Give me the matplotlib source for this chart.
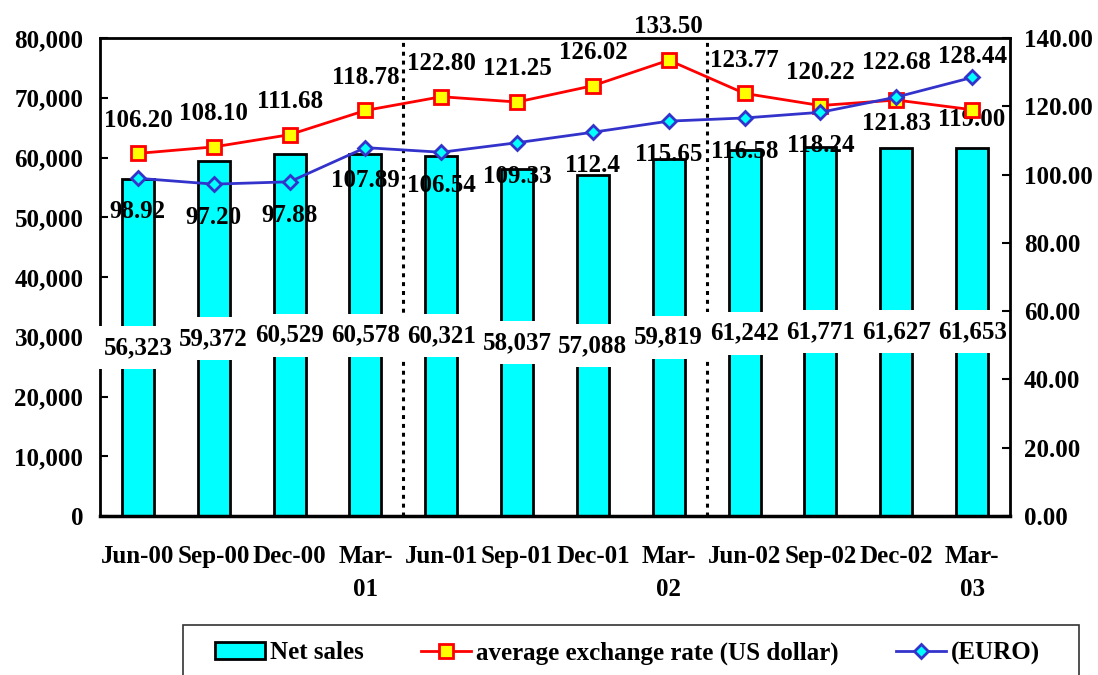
import matplotlib
matplotlib.use("Agg")
import matplotlib.pyplot as plt
from matplotlib.patches import Rectangle
from matplotlib.ticker import FuncFormatter

# -------------------------------
# DATA
# -------------------------------
quarters = ["Jun-00", "Sep-00", "Dec-00", "Mar-\n01", "Jun-01", "Sep-01",
            "Dec-01", "Mar-\n02", "Jun-02", "Sep-02", "Dec-02", "Mar-\n03"]
net_sales = [56323, 59372, 60529, 60578, 60321, 58037,
             57088, 59819, 61242, 61771, 61627, 61653]
usd_rate = [106.20, 108.10, 111.68, 118.78, 122.80, 121.25,
            126.02, 133.50, 123.77, 120.22, 121.83, 119.00]
euro_rate = [98.92, 97.20, 97.88, 107.89, 106.54, 109.33,
             112.4, 115.65, 116.58, 118.24, 122.68, 128.44]

# label offsets in points (positive = above the marker)
usd_offsets = [24, 24, 24, 24, 24, 24, 24, 24, 24, 24, -17, -7]
euro_offsets = [-24, -24, -24, -24, -24, -24, -24, -24, -24, -24, 25, 15]

# -------------------------------
# STYLE
# -------------------------------
plt.rcParams["font.family"] = ["Liberation Serif", "DejaVu Serif"]
plt.rcParams["font.weight"] = "bold"
plt.rcParams["font.size"] = 18

fig = plt.figure(figsize=(10.98, 6.75), dpi=100)
ax = fig.add_axes([100 / 1098, 1 - 516 / 675, 910 / 1098, 478 / 675])
ax2 = ax.twinx()

x = list(range(len(quarters)))

# -------------------------------
# BARS (left axis)
# -------------------------------
ax.bar(x, net_sales, width=0.42, color="#00FFFF", edgecolor="black",
       linewidth=2, label="Net sales", zorder=2)
# white boxes first, then the numbers on top so boxes don't hide neighbours
for xi, v in zip(x, net_sales):
    ax.text(xi, v / 2, f"{v:,}", ha="center", va="center", fontweight="bold",
            color="white", zorder=9, clip_on=False,
            bbox=dict(boxstyle="square,pad=0.4", fc="white", ec="none"))
for xi, v in zip(x, net_sales):
    ax.text(xi, v / 2, f"{v:,}", ha="center", va="center", fontweight="bold",
            zorder=10, clip_on=False)

ax.set_xlim(-0.5, len(quarters) - 0.5)
ax.set_ylim(0, 80000)
ax.set_yticks(range(0, 80001, 10000))
ax.yaxis.set_major_formatter(FuncFormatter(lambda v, p: f"{int(v):,}"))
ax.set_xticks(x)
ax.set_xticklabels(quarters, linespacing=1.55)
ax.tick_params(axis="x", length=0, pad=21)
ax.tick_params(axis="y", direction="in", length=6, width=1.5, pad=12)

for xv in (3.5, 7.5):
    ax.axvline(xv, color="black", linewidth=2.2, linestyle=(0, (1.3, 1.6)), zorder=3)

# -------------------------------
# LINES (right axis)
# -------------------------------
ax2.plot(x, usd_rate, color="red", linewidth=2, marker="s", markersize=10,
         markerfacecolor="yellow", markeredgecolor="red", markeredgewidth=2,
         label="average exchange rate (US dollar)", zorder=5)
ax2.plot(x, euro_rate, color="#3333CC", linewidth=2, marker="D", markersize=7.5,
         markerfacecolor="#00FFFF", markeredgecolor="#3333CC", markeredgewidth=2,
         label="(EURO)", zorder=5)

for xi, v, off in zip(x, usd_rate, usd_offsets):
    ax2.annotate(f"{v:.2f}", (xi, v), xytext=(0, off), textcoords="offset points",
                 ha="center", va="center", fontweight="bold", annotation_clip=False)
for i, (xi, v, off) in enumerate(zip(x, euro_rate, euro_offsets)):
    txt = f"{v:.1f}" if i == 6 else f"{v:.2f}"
    ax2.annotate(txt, (xi, v), xytext=(0, off), textcoords="offset points",
                 ha="center", va="center", fontweight="bold", annotation_clip=False)

ax2.set_ylim(0, 140)
ax2.set_yticks(range(0, 141, 20))
ax2.yaxis.set_major_formatter(FuncFormatter(lambda v, p: f"{v:.2f}"))
ax2.tick_params(axis="y", direction="in", length=6, width=1.5, pad=10)

# spines
for s in ("top", "bottom", "left", "right"):
    ax.spines[s].set_linewidth(2)
ax.spines["bottom"].set_linewidth(2.5)
ax.spines["right"].set_visible(False)
ax2.spines["left"].set_visible(False)
ax2.spines["top"].set_visible(False)
ax2.spines["bottom"].set_visible(False)
ax2.spines["right"].set_linewidth(2)

# -------------------------------
# LEGEND
# -------------------------------
fig.patches.append(Rectangle((183 / 1098, -0.05), (1079 - 183) / 1098, 0.05 + 50 / 675,
                             transform=fig.transFigure, fill=False,
                             edgecolor="#333333", linewidth=1.2))
h1, l1 = ax.get_legend_handles_labels()
h2, l2 = ax2.get_legend_handles_labels()
fig.legend(h1 + h2, l1 + l2, loc="center left", ncol=3, frameon=False,
           bbox_to_anchor=(205 / 1098, 1 - 653 / 675), handlelength=2.0,
           handletextpad=0.2, columnspacing=2.3, borderaxespad=0)

plt.savefig("out.png", dpi=100)
plt.close()
